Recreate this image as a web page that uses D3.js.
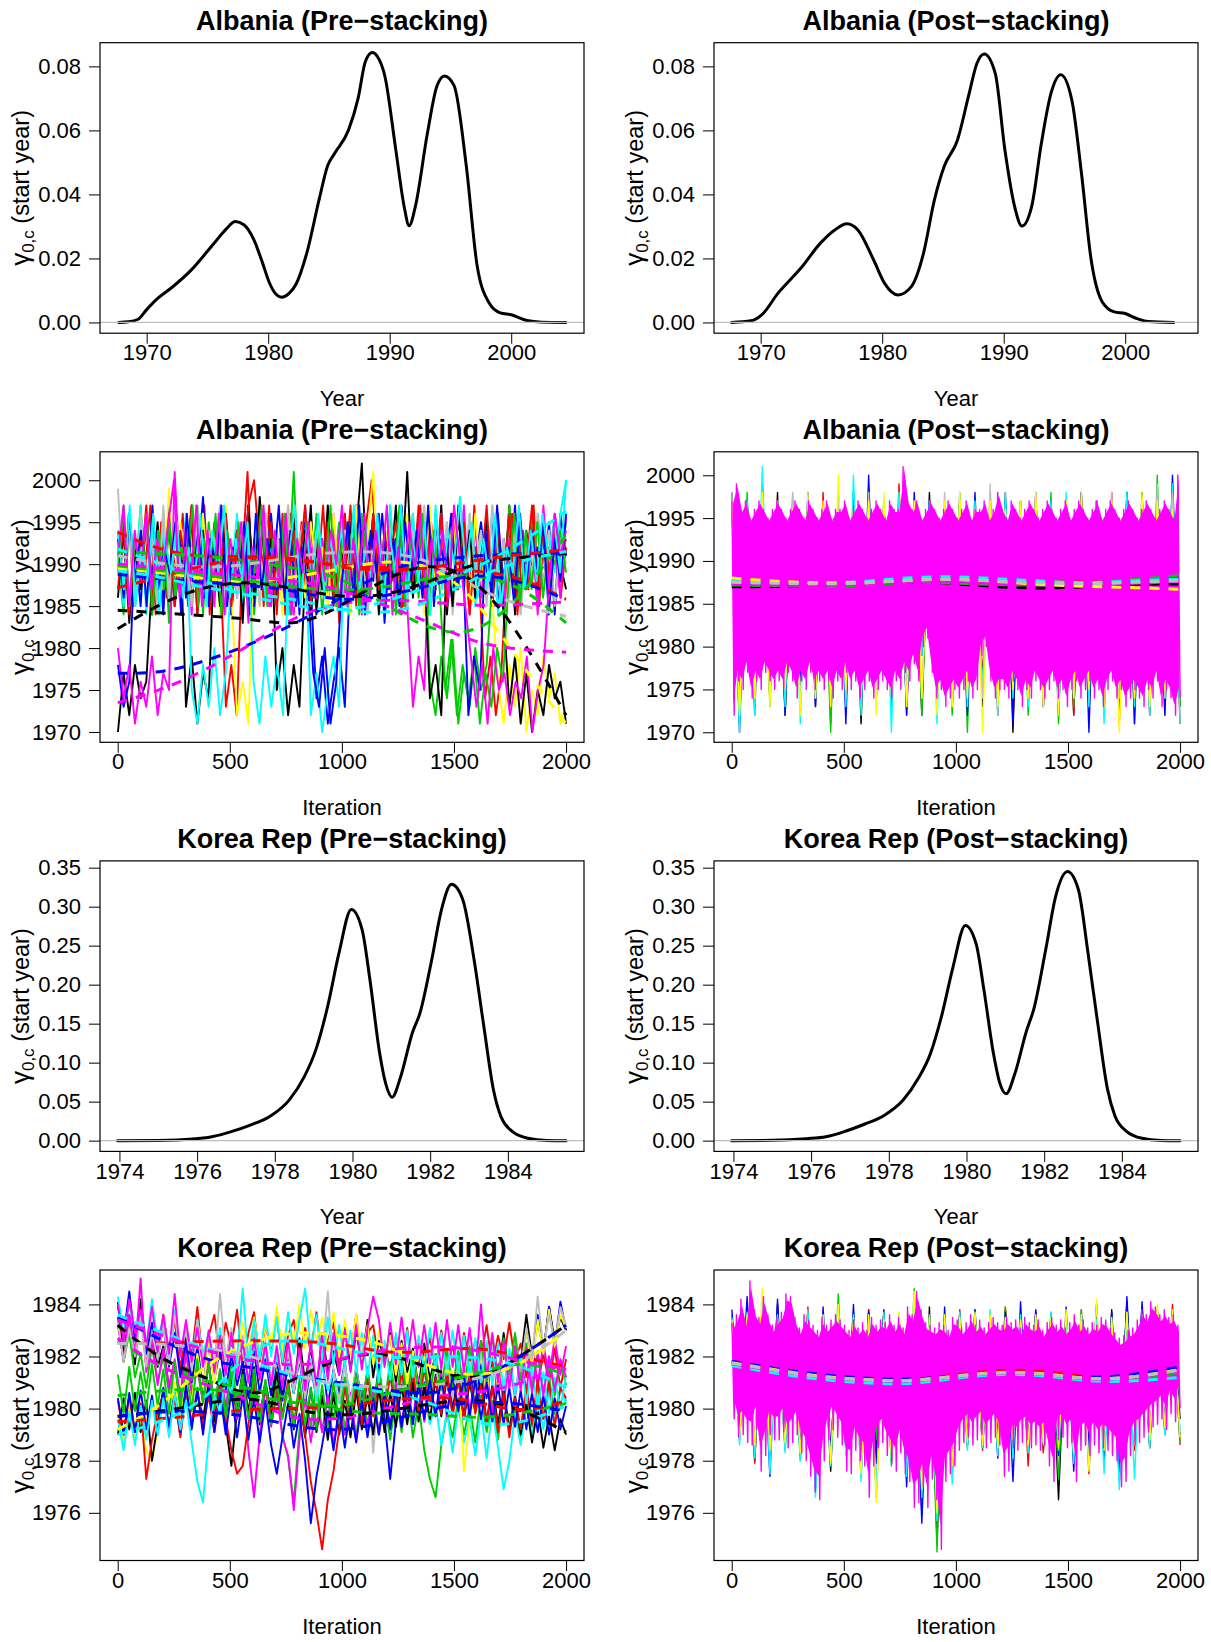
<!DOCTYPE html>
<html><head><meta charset="utf-8">
<script src="https://cdn.jsdelivr.net/npm/d3@7"></script>
<style>body{margin:0;background:#fff}svg{display:block}</style>
</head><body>
<svg id="chart" width="1211" height="1642"></svg>
<script>
// ---------------- DATA ----------------
const yearBase = 1970; // trace values below are stored as offsets from this year
const chainColors = ["#000000","#FF0000","#00CD00","#0000FF","#00FFFF","#FF00FF","#FFFF00","#BEBEBE"];
const iterTicks = [0, 500, 1000, 1500, 2000];
const smoothIters = [0,200,400,600,800,1000,1200,1400,1600,1800,2000];

// Density curves
const albPreDensX = [1967.7,1968.5,1969.3,1970,1970.9,1972.1,1973.7,1975.6,1976.5,1977.3,1978,1978.8,1979.5,1980.1,1980.6,1981.1,1981.7,1982.3,1983.2,1984.2,1984.9,1985.5,1986.6,1987.4,1988,1988.57,1989,1989.6,1990.5,1991.2,1991.6,1992.1,1993.1,1993.9,1994.5,1995.3,1996.3,1997.2,1998.2,1999.1,2000,2001.3,2002.5,2004.5];
const albPreDensY = [0,0.0002,0.001,0.004,0.0075,0.011,0.0165,0.025,0.029,0.0315,0.0305,0.026,0.019,0.0124,0.009,0.0079,0.009,0.012,0.022,0.0385,0.049,0.053,0.060,0.070,0.0815,0.0843,0.083,0.077,0.054,0.036,0.0302,0.036,0.059,0.074,0.077,0.074,0.049,0.0176,0.006,0.003,0.0024,0.0006,0.0001,0];
const albPostDensX = [1967.6,1969.2,1970.2,1971.4,1972.4,1973.3,1974.9,1976.1,1977.1,1978,1979.3,1980.2,1981.3,1982.4,1983.4,1984.3,1985.1,1986.2,1987.1,1987.8,1988.4,1989.3,1990.1,1990.9,1991.5,1992.3,1993.1,1993.9,1994.7,1995.6,1996.4,1997.2,1998.1,1999.1,2000,2000.9,2001.9,2004];
const albPostDensY = [0,0.0005,0.0028,0.009,0.0132,0.0169,0.0247,0.0289,0.0308,0.0289,0.0195,0.0122,0.0086,0.0112,0.0216,0.0383,0.0487,0.057,0.0706,0.081,0.0839,0.0779,0.0539,0.0362,0.0301,0.0362,0.056,0.0717,0.0774,0.0696,0.0466,0.0195,0.0065,0.0033,0.0028,0.0013,0.0003,0];
const korPreDensX = [1973.95,1975,1975.88,1976.38,1976.88,1977.37,1977.87,1978.37,1978.76,1979.06,1979.36,1979.65,1979.97,1980.25,1980.45,1980.7,1980.85,1981.02,1981.24,1981.54,1981.74,1982.04,1982.29,1982.55,1982.84,1983.13,1983.38,1983.63,1983.82,1984.12,1984.52,1985,1985.5];
const korPreDensY = [0,0.0003,0.002,0.005,0.0116,0.020,0.031,0.052,0.082,0.117,0.172,0.24,0.2965,0.27,0.206,0.112,0.074,0.0557,0.082,0.138,0.164,0.232,0.296,0.3286,0.309,0.232,0.147,0.065,0.031,0.0116,0.003,0.0003,0];
const korPostDensX = [1973.95,1975,1975.88,1976.38,1976.88,1977.37,1977.87,1978.37,1978.76,1979.06,1979.36,1979.65,1979.97,1980.25,1980.45,1980.7,1980.85,1981.02,1981.24,1981.54,1981.74,1982.04,1982.29,1982.6,1982.88,1983.13,1983.38,1983.63,1983.82,1984.12,1984.52,1985,1985.5];
const korPostDensY = [0,0.0004,0.0025,0.005,0.012,0.021,0.032,0.052,0.080,0.110,0.160,0.222,0.276,0.252,0.193,0.110,0.075,0.060,0.085,0.140,0.170,0.245,0.312,0.345,0.322,0.240,0.150,0.066,0.032,0.012,0.003,0.0003,0];

const albDensXTicks = [1970,1980,1990,2000];
const albDensYTicks = [0,0.02,0.04,0.06,0.08];
const korDensXTicks = [1974,1976,1978,1980,1982,1984];
const korDensYTicks = [0,0.05,0.10,0.15,0.20,0.25,0.30,0.35];
const albTraceYTicks = [1970,1975,1980,1985,1990,1995,2000];
const korTraceYTicks = [1976,1978,1980,1982,1984];

// Albania pre-stacking: 14 thinned chains (offset years)
const albPreChains = [
[0,7,2,8,4,6,18,25,15,26,17,23,3,9,1,7,4,22,16,26,14,24,17,27,15,23,18,25,5,10,2,8,3,19,27,14,23,16,25,18,26,15,24,32,17,25,14,23,19,27,16,22,18,26,15,24,17,27,14,23,19,25,16,22,18,26,15,24,17,27,14,23,19,25,16,22,18,26,20,17],
[24,17,26,15,23,19,27,14,25,16,22,18,26,15,24,17,27,14,23,19,3,8,2,20,31,16,24,15,27,18,23,14,26,17,25,15,22,19,27,16,24,13,26,18,23,15,25,30,21,16,24,18,26,15,23,17,27,14,25,19,22,16,26,18,24,15,27,17,4,9,2,7,19,26,14,24,17,27,15,23,18,25,16,22],
[21,14,25,17,27,15,23,18,26,13,24,19,22,16,27,14,25,18,20,26,15,24,17,26,14,22,19,25,16,23,18,31,15,24,17,26,14,22,19,25,16,23,18,26,15,21,24,17,27,14,23,19,26,16,24,6,2,9,4,11,1,7,3,10,5,8,18,25,14,27,16,23,19,26,15,24,17,22,20,25],
[8,3,6,22,15,26,18,24,14,27,17,23,16,25,19,28,15,22,17,26,14,24,18,27,15,23,19,26,16,22,18,25,14,27,17,4,9,1,6,10,3,20,27,15,24,18,26,13,23,17,27,16,22,19,25,14,26,18,23,15,27,17,24,20,25,19,26,15,23,18,27,16,24,19,22,17,25,14,26,21],
[22,15,26,18,27,14,24,17,25,16,23,19,26,5,1,8,3,10,2,7,19,26,15,23,18,27,16,22,17,25,14,26,18,24,2,7,0,5,9,3,24,17,26,14,25,19,23,16,27,18,22,15,26,17,24,14,27,19,25,16,23,18,26,15,24,17,27,14,22,19,25,16,23,18,26,21,24,19,26,30],
[10,4,8,1,6,3,9,2,7,5,31,18,25,14,26,17,24,15,27,19,22,16,25,13,23,18,26,15,24,17,27,14,22,19,25,16,23,18,26,15,24,17,27,14,22,19,25,16,23,18,26,15,3,9,5,24,17,26,15,23,18,27,14,25,16,22,19,26,15,23,20,25,17,24,14,27,18,22,16,26],
[20,26,15,24,18,27,14,23,17,29,16,25,19,22,15,26,18,24,14,27,17,2,6,1,22,15,26,18,24,14,27,17,23,16,25,19,22,15,26,18,24,14,27,17,23,31,16,25,19,22,15,26,18,24,14,27,17,23,16,25,19,22,15,26,18,24,16,6,1,8,3,10,0,5,2,9,4,7,1,3],
[29,17,24,15,26,18,23,14,27,16,25,19,22,15,26,17,24,18,27,14,23,16,25,19,22,15,26,18,24,17,27,15,23,26,19,24,16,27,18,22,15,25,17,23,14,21,16,24,18,22,26,15,24,19,27,16,23,18,25,14,22,17,26,19,24,15,27,18,23,16,25,14,22,19,26,17,24,15,23,20],
[16,24,13,22,17,26,14,23,18,25,15,21,19,27,14,24,17,22,15,26,18,24,13,27,16,28,19,23,15,25,18,26,16,24,14,22,17,27,15,23,19,25,16,22,18,26,15,24,17,23,19,31,16,24,20,4,8,2,22,15,26,18,24,16,21,25,17,23,14,3,9,1,7,0,5,2,8,4,6,1],
[17,25,14,23,19,27,16,22,18,26,15,24,20,27,14,23,17,25,19,26,15,24,18,27,30,22,19,25,14,26,17,24,20,27,15,23,18,25,16,22,19,27,15,24,18,26,17,23,21,25,14,22,18,27,16,24,19,26,15,23,17,25,14,22,19,27,16,24,18,26,15,23,20,27,17,25,19,24,21,23],
[19,27,15,23,18,26,14,24,17,25,16,22,19,27,15,23,18,26,14,24,17,25,16,21,19,27,15,23,18,26,14,24,17,25,16,22,19,27,15,23,18,26,14,24,17,25,16,22,19,27,15,23,18,26,14,24,17,5,11,2,8,4,9,1,7,3,10,6,18,26,15,24,17,25,16,22,20,24,19],
[23,16,26,18,24,15,27,17,22,19,25,14,26,18,24,16,23,19,27,15,22,18,25,14,26,17,23,19,27,16,24,15,22,18,7,3,10,1,6,18,25,16,27,14,24,19,26,17,23,15,25,18,24,16,27,15,23,19,26,17,22,2,9,5,24,16,27,18,22,15,26,17,24,19,25,14,23,18,26],
[24,17,27,15,22,18,26,14,23,19,25,16,22,18,26,15,24,19,27,16,23,18,25,6,1,9,3,8,2,21,27,15,24,18,26,16,23,19,25,14,27,17,22,18,26,15,24,19,27,16,23,18,25,14,26,17,24,20,28,19,25,16,23,18,26,15,22,19,27,17,24,18,26,21,25,19,30],
[21,27,15,24,18,26,17,23,19,25,30,16,22,18,27,15,24,17,26,14,23,19,25,16,22,18,27,15,24,17,26,14,23,19,25,16,22,18,24,20,27,15,23,18,26,16,24,19,27,14,22,17,25,19,26,15,23,18,24,16,27,21,15,9,3,8,1,10,5,7,2,6,4,9,0,5,8,18,26,21,24]
];
const albPreSmooth = [
[1982.3,1985.5,1987.5,1988,1987,1986,1986.2,1988,1990.3,1990.8,1991.3],
[1993.8,1991.5,1990.8,1991,1990.5,1989.8,1989.5,1989.6,1989.2,1988.5,1985.8],
[1991.5,1991.2,1991,1990.3,1989.5,1988.5,1985,1982,1981.5,1986,1993.5],
[1977,1977,1978.5,1980.5,1983,1986,1989.5,1990.5,1991,1991.3,1991.3],
[1991.8,1990,1987.8,1986,1985,1984.3,1985.5,1987.5,1989.5,1992.5,1996.3],
[1973.5,1975,1977.5,1980.5,1984,1985.5,1985.8,1985.5,1985,1985.2,1985.5],
[1989.5,1989,1988.2,1987.8,1988.5,1989.5,1990.5,1990,1986,1978,1971],
[1991,1990,1989.5,1990,1991,1991.5,1991.5,1990.5,1987,1985,1983.8],
[1984.5,1984.2,1983.8,1983.5,1982.5,1985,1988.5,1990.3,1988.5,1981.5,1972],
[1987.2,1988.5,1990,1991,1990.8,1989.5,1989.2,1989.5,1990.5,1991.2,1991.7],
[1989.8,1989.2,1988.7,1988,1987.2,1986.8,1987.2,1988.5,1988.8,1987.5,1983],
[1988.8,1988.2,1987.8,1987.5,1986.8,1985.5,1986.2,1987.5,1989,1988,1985.8],
[1989.2,1988.5,1987,1986.5,1985.8,1984.5,1984,1985.5,1988.5,1990.5,1991.5],
[1990,1989.5,1989,1988.5,1988,1987,1985,1983,1980.5,1979.8,1979.5]
];

// Albania post-stacking: per-bin high / low of each chain (offset years)
const albPostMagHi = [27,29,26,27,25,26,27,26,25,26,27,26,25,26,27,26,25,27,26,25,26,27,25,26,26,27,25,26,27,26,25,26,27,26,25,27,26,26,31,27,26,27,25,26,27,26,25,26,27,26,25,26,27,25,26,26,27,25,26,28,26,25,27,26,25,26,27,26,25,26,27,26,25,26,27,25,26,27,26,25,26,27,25,26,27,26,25,26,27,26,25,26,27,26,25,26,27,26,25,30];
const albPostMagLo = [2,6,5,7,4,6,5,7,6,5,6,5,7,6,4,6,5,7,5,6,5,6,4,6,5,7,5,6,4,5,6,4,5,6,5,4,6,5,7,6,8,6,10,11,7,4,5,3,4,5,4,5,6,4,5,9,10,6,4,5,5,4,6,5,3,5,4,6,5,4,5,6,4,5,3,5,6,4,5,6,4,5,3,5,6,4,5,3,4,5,4,3,5,4,6,3,5,4,2,4];
const albPostOtherColors = [0,1,2,3,4,7,6];
const albPostOtherHi = [
[26,27,25,28,26,27,26,27,28,26,25,27,26,28,26,27,25,27,28,26,27,26,25,28,27,26,27,28,26,29],
[27,26,28,26,27,25,28,27,26,28,27,29,26,27,26,28,25,27,26,27,28,26,27,25,26,28,27,26,28,27],
[26,28,27,26,25,27,26,28,26,27,26,28,27,26,25,27,26,28,26,27,25,28,27,26,27,26,28,26,30,27],
[28,27,29,26,27,28,26,27,28,30,27,26,28,27,26,27,28,26,27,26,28,27,26,28,27,26,28,27,26,30],
[26,27,31,26,28,27,26,27,30,26,27,28,26,27,26,28,27,26,28,27,26,27,28,26,27,26,28,27,26,29],
[28,26,27,26,28,27,26,27,26,28,27,26,27,26,28,27,26,29,26,27,28,26,27,26,27,28,26,27,29,28],
[27,26,28,27,26,28,27,30,26,27,28,26,27,26,27,28,26,27,26,27,28,26,27,28,26,27,26,28,27,26]
];
const albPostOtherLo = [
[3,5,4,2,5,3,4,6,1,4,5,3,2,5,4,6,3,5,0,4,3,5,2,4,6,3,5,2,4,3],
[4,2,5,3,4,5,1,4,3,5,4,2,3,5,3,4,6,2,4,5,3,4,2,5,3,1,4,3,4,1],
[1,4,3,2,5,4,0,3,5,4,3,5,2,8,2,0,4,3,5,2,4,1,3,5,2,4,1,3,2,3],
[0,3,4,2,5,3,4,1,3,4,5,2,9,3,4,2,5,3,1,4,3,2,4,0,3,4,1,3,2,4],
[0,2,4,3,1,4,5,3,2,4,0,3,9,1,4,3,5,2,4,3,5,2,4,3,1,4,3,2,4,1],
[3,5,4,5,3,4,6,4,5,3,4,5,4,6,3,5,4,3,5,4,3,5,4,6,3,4,5,3,4,5],
[2,4,3,5,2,4,3,5,4,2,5,3,4,2,3,4,0,3,5,4,3,2,4,5,3,0,4,3,5,4]
];
const albPostSmoothColors = [0,1,2,3,4,5,6,7];
const albPostSmooth = [
[1987.0,1987.0,1987.1,1987.3,1987.6,1987.4,1986.9,1986.8,1987.0,1987.3,1987.3],
[1987.7,1987.6,1987.4,1987.5,1987.9,1988.0,1987.8,1987.6,1987.5,1987.6,1987.6],
[1987.2,1987.1,1987.0,1987.2,1987.6,1987.4,1987.2,1987.2,1987.4,1987.8,1988.3],
[1987.4,1987.3,1987.2,1987.5,1988.0,1988.0,1987.8,1987.5,1987.3,1987.6,1988.0],
[1987.6,1987.5,1987.3,1987.6,1988.1,1988.2,1987.9,1987.6,1987.4,1987.7,1987.9],
[1987.3,1987.2,1987.1,1987.3,1987.7,1987.6,1987.3,1987.2,1987.2,1987.4,1987.6],
[1988.0,1987.6,1987.4,1987.4,1987.8,1987.9,1987.6,1987.2,1987.0,1986.9,1986.7],
[1987.5,1987.4,1987.3,1987.4,1987.8,1987.9,1987.6,1987.4,1987.3,1987.5,1987.7]
];

// Korea Rep pre-stacking: 14 thinned chains (offset years)
const korPreChains = [
[14.1,12.1,13.6,11.7,14.2,12.3,12.9,11.6,12.4,10.8,11.8,10.2,12.7,11.1,12.0,10.4,11.8,10.0,11.2,9.4,7.8,9.9,11.5,9.7,11.6,9.4,11.0,9.8,12.0,10.4,11.9,10.6,12.7,11.0,12.4,10.5,12.9,11.4,12.2,11.3,13.2,11.5,12.9,11.8,13.4,11.2,12.6,11.9,12.9,11.0,12.6,11.4,12.3,10.8,12.5,11.1,12.1,10.4,11.8,10.6,12.2,10.2,11.5,10.8,12.6,10.9,12.0,11.3,12.9,11.1,12.4,11.8,13.6,12.0,13.4,12.2,13.9,12.6,13.5,13.0],
[13.5,11.8,13.1,12.0,13.8,11.6,12.9,11.9,13.6,12.2,13.4,11.5,13.2,12.0,13.9,11.7,12.8,13.6,11.9,13.3,12.4,13.8,11.6,12.9,13.7,11.8,13.2,12.3,13.5,11.7,12.8,13.4,11.9,13.1,12.2,13.7,11.8,12.6,13.3,11.5,13.0,12.1,13.6,11.7,12.9,13.2,11.8,12.5,11.4,12.8,11.6,13.1,11.2,12.5,11.9,12.7,11.5,13.0,11.7,12.4,11.3,12.9,11.8,12.6,12.0,13.2,11.6,12.8,11.9,13.3,11.8,12.5,11.2,12.4,10.9,12.1,11.0,12.3,10.8,11.9],
[13.3,11.8,12.9,11.2,12.1,10.8,12.4,11.0,12.0,10.6,11.8,10.1,12.2,10.7,11.5,10.3,11.7,10.0,11.4,9.8,11.9,10.2,11.3,9.7,11.5,9.6,11.1,9.4,10.8,9.0,8.1,6.4,9.2,10.6,9.3,10.9,9.1,10.5,9.6,11.0,9.2,10.4,8.9,10.8,9.4,10.6,9.0,10.3,8.8,10.5,9.1,10.7,8.9,10.2,8.4,7.3,6.6,8.6,9.8,8.9,10.4,9.0,10.1,8.7,10.5,9.1,10.3,8.8,10.6,9.2,10.0,8.9,10.7,9.3,10.9,9.6,11.2,9.8,10.8,10.3],
[13.9,12.8,14.5,12.6,13.8,12.1,13.3,11.9,13.2,11.6,12.9,11.2,12.6,11.0,12.4,10.8,12.5,11.1,12.3,10.7,12.1,10.9,11.8,10.4,12.2,10.6,11.9,10.5,12.0,10.3,11.7,10.6,11.9,10.2,11.6,10.4,12.0,10.1,11.5,10.5,11.8,9.9,11.6,10.2,11.4,9.8,11.7,9.6,7.3,9.5,11.2,9.9,11.4,9.7,11.0,10.1,11.3,9.8,11.5,10.0,11.2,9.6,11.6,10.2,11.8,10.4,12.2,10.6,12.5,10.9,12.8,11.3,13.0,11.7,13.6,12.1,13.9,12.4,14.1,13.0],
[14.3,12.9,14.0,13.1,13.6,12.4,14.2,12.6,13.5,12.2,13.8,12.0,13.2,11.8,13.4,12.1,12.9,11.5,13.1,11.3,12.7,11.6,12.5,11.0,12.6,11.2,12.3,10.8,12.0,11.1,11.8,10.6,12.1,10.5,11.9,10.3,11.6,10.7,11.4,10.2,11.7,10.4,11.5,10.0,11.2,10.3,11.0,9.9,11.3,9.7,11.1,9.5,10.8,9.9,10.6,9.4,10.2,8.6,9.9,8.3,10.1,8.7,9.6,8.2,9.9,8.1,10.0,8.5,6.9,8.0,9.8,8.6,10.3,8.9,10.5,9.2,10.7,9.4,10.8,10.2],
[13.2,11.9,13.6,12.1,15.0,11.4,12.6,10.9,12.3,10.8,11.9,10.5,12.2,10.4,11.6,10.2,11.8,9.9,11.5,10.1,11.3,9.6,11.0,8.4,6.6,9.0,10.8,9.3,10.6,8.9,8.2,6.1,8.8,10.4,8.7,10.2,9.1,10.5,8.6,10.0,9.0,10.6,8.8,10.3,9.2,10.8,9.0,10.5,9.4,11.0,9.3,10.9,9.6,11.2,9.5,11.0,9.8,11.4,9.7,11.3,10.0,11.6,9.9,11.2,10.1,11.5,9.8,11.7,10.2,11.8,10.4,12.0,10.7,12.3,10.9,12.5,11.2,12.7,11.3,12.4],
[9.8,8.7,10.2,8.9,9.6,8.4,8.0,9.2,10.6,9.3,11.0,9.6,11.4,10.2,12.1,10.7,12.5,11.0,12.8,11.4,13.0,11.7,13.3,12.0,13.5,12.1,13.2,12.4,13.9,12.2,13.6,12.5,14.0,12.3,13.8,12.6,13.5,12.2,13.7,12.0,13.4,12.1,13.6,11.9,13.2,11.7,13.0,12.0,12.8,11.3,12.5,10.9,12.2,10.6,12.0,10.8,11.9,10.4,12.1,10.5,11.8,7.6,9.5,10.9,12.0,10.6,12.3,10.8,12.4,11.0,12.7,11.3,13.0,11.6,13.4,12.1,13.8,12.4,13.6,13.1],
[13.3,11.8,13.1,12.0,13.5,11.6,12.9,11.9,13.2,11.7,13.6,12.1,13.0,11.5,13.4,11.8,12.9,11.6,14.4,11.9,13.1,11.4,12.8,11.7,13.0,11.3,12.6,11.1,12.4,10.9,12.2,10.7,12.0,10.4,11.8,10.6,11.9,14.5,11.5,10.3,11.7,10.2,11.6,10.0,11.4,8.3,10.9,10.1,11.6,9.9,11.5,10.2,11.7,10.0,11.4,10.3,11.8,10.1,11.9,10.4,12.0,10.3,11.8,10.6,12.2,10.8,12.4,11.0,12.6,11.2,12.8,11.5,13.1,11.9,14.3,12.3,13.6,12.5,13.9,13.2],
[9.0,10.4,9.2,10.6,9.1,10.3,8.0,9.4,10.7,9.3,10.5,9.0,10.8,9.4,10.6,9.6,11.0,9.5,10.9,9.7,11.2,9.8,11.1,9.9,11.3,9.6,11.0,9.8,11.4,9.7,10.9,9.2,10.6,8.9,10.8,9.1,10.5,8.8,10.6,9.0,10.3,8.9,10.7,9.2,10.5,9.0,10.8,9.1,10.6,9.3,10.9,9.4,11.0,9.5,10.8,9.6,11.1,9.7,11.2,9.8,11.3,9.6,11.0,9.9,11.2,9.5,10.9,9.4,10.7,9.2,10.5,9.0,10.2,8.7,10.0,8.5,9.7,8.4,9.6,9.0],
[10.3,9.0,10.5,9.1,10.2,7.3,8.8,9.9,10.6,9.2,10.4,8.9,10.7,9.4,10.8,9.3,10.5,9.1,10.9,9.6,8.4,7.5,7.8,9.4,10.9,9.5,11.0,9.4,10.8,9.7,11.1,9.5,10.6,9.0,7.2,6.0,4.6,6.5,7.6,9.2,10.8,9.6,11.0,9.4,11.2,9.7,11.1,9.9,11.3,9.8,11.5,10.0,11.4,9.9,11.6,10.1,11.2,9.8,11.4,9.7,11.1,9.6,11.3,9.8,10.9,9.5,10.8,9.1,10.6,8.9,10.4,9.2,10.9,9.4,11.1,9.6,11.0,9.3,10.8,10.4],
[11.3,9.8,11.6,9.9,11.4,10.0,11.7,10.1,11.5,9.8,11.8,10.0,11.6,9.9,11.9,10.2,11.7,10.0,11.5,9.7,11.4,9.8,11.2,9.6,11.3,9.5,11.1,9.4,11.0,9.6,10.9,9.3,11.1,9.4,10.8,9.2,10.9,9.3,11.0,9.5,11.2,9.7,11.4,9.9,11.6,10.0,11.5,10.2,11.8,10.3,11.9,10.4,12.0,10.6,11.8,10.5,12.1,10.7,12.3,10.8,12.2,10.6,12.4,10.9,12.6,11.0,12.8,11.2,12.7,11.3,12.9,11.1,12.5,10.8,12.2,10.6,12.0,10.5,11.8,10.9],
[10.4,9.0,10.6,9.1,10.7,9.2,10.5,9.0,10.8,9.3,10.6,9.1,10.9,9.2,10.7,9.0,10.8,9.1,10.6,9.0,10.7,8.9,10.5,8.8,10.4,8.7,10.3,8.6,7.5,8.9,10.2,8.5,9.8,8.0,5.6,7.4,8.6,9.9,8.4,10.0,8.5,10.1,8.7,10.3,8.9,10.4,9.0,10.6,9.2,10.7,9.3,10.9,9.4,11.0,9.6,11.1,9.7,11.2,9.8,11.3,9.9,11.2,9.7,11.1,9.6,11.0,9.5,10.9,9.4,10.8,9.3,10.7,9.2,10.6,9.1,10.5,9.0,10.4,9.2,10.1],
[9.6,8.4,9.9,8.6,10.1,8.8,10.3,9.0,10.4,8.9,10.6,9.2,10.3,8.7,7.2,6.4,8.9,10.5,9.8,11.2,10.6,12.0,14.6,11.8,13.4,11.9,13.6,12.0,13.5,11.8,13.7,12.1,13.4,14.6,12.2,13.6,11.9,13.5,11.7,13.2,11.6,13.0,11.4,12.9,11.2,12.8,11.0,12.6,11.1,12.9,11.3,13.0,11.2,12.8,11.4,13.1,11.5,12.9,11.3,13.0,11.4,12.8,11.2,12.7,11.0,12.6,10.9,12.5,10.7,12.3,10.5,12.0,10.2,11.6,9.9,11.4,9.8,11.2,10.0,11.3],
[14.0,12.6,14.2,12.9,13.8,12.4,13.9,12.2,13.6,12.1,14.4,12.0,13.4,11.8,13.1,11.6,13.0,11.4,12.8,11.3,12.9,11.2,12.6,11.0,12.7,11.1,12.5,10.9,12.4,10.8,12.6,11.0,12.3,10.7,12.5,10.9,12.8,11.1,12.9,11.3,13.0,11.4,13.2,11.5,13.1,14.3,13.4,11.6,13.3,11.7,13.5,11.8,13.4,11.6,13.2,11.7,13.3,11.5,13.4,11.6,13.2,11.4,13.1,11.3,14.0,11.2,12.9,11.0,12.6,10.8,12.4,10.7,12.3,10.6,12.1,10.5,12.0,10.7,11.9,11.2]
];
const korPreSmooth = [
[1983.2,1981.8,1981.2,1980.3,1981.2,1982.0,1982.2,1981.5,1981.0,1982.0,1983.2],
[1982.5,1982.5,1982.6,1982.6,1982.6,1982.5,1982.1,1982.2,1982.4,1982.0,1981.6],
[1982.6,1981.5,1981.0,1980.8,1980.3,1979.9,1979.8,1979.8,1979.6,1979.8,1980.2],
[1983.5,1982.6,1981.8,1981.6,1981.2,1981.0,1980.7,1980.5,1981.0,1982.0,1983.2],
[1983.6,1982.9,1982.3,1981.8,1981.2,1980.9,1980.6,1980.3,1979.3,1979.4,1980.1],
[1982.7,1981.5,1980.9,1980.3,1979.5,1979.6,1980.0,1980.5,1980.6,1980.9,1981.8],
[1979.2,1980.1,1981.8,1982.6,1983.0,1982.8,1982.5,1981.5,1981.2,1981.6,1983.0],
[1982.5,1982.5,1982.3,1982.1,1981.2,1980.9,1980.8,1980.9,1981.1,1981.7,1983.0],
[1979.7,1979.9,1980.2,1980.5,1979.9,1979.7,1979.9,1980.2,1980.4,1980.0,1979.1],
[1979.5,1979.6,1979.8,1980.0,1980.0,1980.1,1980.3,1980.5,1980.3,1979.8,1980.3],
[1980.5,1980.7,1980.8,1980.5,1980.2,1980.0,1980.6,1981.0,1981.3,1981.9,1981.3],
[1979.7,1979.9,1979.9,1979.7,1979.3,1979.1,1979.5,1980.0,1980.3,1980.2,1979.9],
[1979.0,1979.5,1980.3,1982.5,1982.7,1982.3,1981.9,1982.0,1982.0,1981.7,1980.8],
[1983.4,1982.8,1982.2,1981.8,1981.6,1981.9,1982.3,1982.4,1982.3,1981.8,1981.5]
];

// Korea Rep post-stacking: per-bin high / low (offset years)
const korPostMagHi = [13.3,13.6,14.2,13.4,14.9,13.8,13.5,14.3,13.6,13.2,13.5,13.7,14.4,14.3,13.5,13.1,13.6,13.4,13.2,13.0,13.5,13.2,13.4,13.6,13.4,13.2,13.0,13.4,13.1,13.3,13.0,13.5,13.2,13.4,13.3,13.6,13.2,13.5,13.1,13.9,13.6,14.5,13.8,13.3,13.2,13.1,13.3,13.2,13.0,13.5,13.4,13.1,13.3,13.6,13.2,13.4,13.1,13.3,13.5,13.3,13.2,13.5,13.3,13.4,13.1,13.5,13.3,13.2,13.4,13.0,13.3,13.5,13.2,13.4,13.1,13.3,13.6,13.2,13.4,13.1,13.3,13.2,13.5,13.4,13.1,12.9,12.7,12.8,13.0,13.1,13.4,13.8,13.6,14.1,13.9,13.6,13.8,13.5,13.6,13.2];
const korPostMagLo = [9.6,8.9,9.0,8.7,8.6,9.2,7.6,8.2,9.0,8.8,8.8,9.1,8.5,8.7,9.0,8.3,8.0,7.4,6.8,6.5,8.0,8.8,9.2,8.9,8.6,7.6,7.5,8.4,8.0,7.8,6.6,7.8,8.5,8.7,8.2,7.9,7.6,8.3,7.5,7.2,6.2,6.4,7.0,6.2,7.3,6.5,4.6,7.2,7.5,7.8,8.4,8.7,8.9,8.6,8.8,9.0,8.5,8.7,8.9,8.6,7.4,7.6,8.5,8.4,8.7,8.8,8.5,8.6,8.4,8.6,7.8,7.2,8.8,8.9,8.5,8.7,7.2,8.4,8.6,8.2,8.6,8.3,8.5,8.4,8.2,8.0,7.0,7.2,8.2,8.6,8.7,8.9,9.1,9.3,9.4,9.6,9.2,9.8,9.5,10.0];
const korPostOtherColors = [0,1,2,3,4,6];
const korPostOtherHi = [
[13.4,13.6,13.8,14.0,13.6,13.8,13.5,13.9,13.6,13.8,13.7,13.5,13.6,13.9,13.5,13.7,13.6,13.5,13.8,13.6,13.7,13.4,13.6,13.5,13.7,13.8,14.1,13.9,13.7,13.6],
[13.5,13.4,13.7,13.3,13.6,13.9,13.5,13.4,13.6,13.8,13.5,13.3,13.7,13.6,13.5,13.8,13.4,13.6,13.9,13.5,13.7,13.4,13.6,13.8,13.5,13.4,13.7,13.6,13.8,14.0],
[13.6,13.8,14.2,13.5,13.7,13.6,13.4,14.4,13.6,13.5,13.7,13.6,14.6,13.5,13.6,13.4,13.8,13.5,13.9,13.6,13.5,13.7,13.4,13.8,13.9,13.6,14.0,13.5,13.7,13.5],
[13.8,14.3,13.6,14.2,13.7,13.5,13.9,13.6,14.0,13.7,13.8,13.5,13.6,13.3,13.9,13.6,13.8,13.5,13.7,14.1,13.8,13.6,13.9,13.6,14.0,13.7,14.3,14.1,13.8,13.7],
[13.5,13.7,14.1,13.6,13.4,13.8,13.5,13.7,13.6,13.4,13.7,13.5,14.4,13.6,13.5,13.7,13.6,13.8,13.4,13.6,13.5,13.7,13.5,13.6,13.4,13.3,13.7,13.6,13.9,13.5],
[13.4,13.6,14.6,13.5,13.7,13.4,13.6,14.0,13.5,13.6,13.4,13.7,14.5,13.5,13.6,13.5,13.7,13.6,13.5,13.4,13.6,13.5,13.8,13.6,14.2,13.5,13.7,13.6,14.0,13.8]
];
const korPostOtherLo = [
[9.0,8.0,8.6,8.9,8.3,7.8,7.6,8.5,8.7,8.4,8.8,8.1,6.0,4.9,7.5,8.6,8.5,8.8,8.3,8.7,8.4,6.5,8.6,8.4,8.0,8.3,8.6,8.5,9.2,9.6],
[8.8,7.9,8.6,8.4,8.2,7.8,8.3,8.5,7.4,6.6,8.0,8.5,7.0,5.5,7.6,8.7,8.4,8.6,8.9,7.8,8.3,8.5,7.9,7.5,8.2,7.2,8.4,8.7,9.0,8.6],
[8.9,8.4,8.7,8.5,8.0,8.6,7.9,8.5,8.3,8.8,7.8,8.1,6.3,4.5,7.4,8.5,8.7,8.3,8.8,8.4,8.7,7.3,8.2,8.6,8.5,7.4,8.8,8.6,9.2,8.7],
[9.3,8.5,7.4,8.6,8.2,6.9,8.3,8.4,7.6,7.9,8.2,7.0,5.6,6.0,7.7,8.6,8.7,8.1,7.2,8.4,8.7,8.2,7.6,8.5,8.0,7.3,8.6,8.7,9.4,9.0],
[8.6,8.1,7.5,8.3,8.0,6.6,7.8,8.2,7.2,6.9,7.9,7.4,6.6,5.7,7.1,8.4,8.5,8.2,8.1,8.3,8.6,8.4,7.9,7.7,7.5,6.9,7.3,8.5,9.0,9.1],
[8.9,8.6,8.4,8.7,8.3,7.6,7.9,8.4,7.5,6.4,8.1,8.3,6.9,6.0,7.8,8.7,8.6,8.5,8.8,8.6,8.7,8.5,8.3,7.6,8.4,8.5,8.6,8.8,9.3,8.9]
];
const korPostSmoothColors = [0,1,2,3,4,5,6,7];
const korPostSmooth = [
[1981.8,1981.5,1981.25,1981.12,1981.08,1981.28,1981.42,1981.35,1981.12,1981.25,1981.55],
[1981.78,1981.5,1981.22,1981.1,1981.05,1981.3,1981.5,1981.45,1981.15,1981.25,1981.45],
[1981.7,1981.42,1981.18,1981.05,1981.0,1981.22,1981.38,1981.32,1981.05,1981.15,1981.4],
[1981.82,1981.52,1981.3,1981.15,1981.1,1981.25,1981.4,1981.3,1981.15,1981.3,1981.6],
[1981.65,1981.35,1981.1,1980.98,1980.92,1981.18,1981.35,1981.28,1981.02,1981.05,1981.2],
[1981.72,1981.45,1981.2,1981.08,1981.02,1981.24,1981.4,1981.34,1981.08,1981.18,1981.45],
[1981.76,1981.48,1981.22,1981.1,1981.04,1981.26,1981.42,1981.36,1981.1,1981.2,1981.5],
[1981.74,1981.46,1981.2,1981.1,1981.05,1981.25,1981.41,1981.35,1981.1,1981.2,1981.48]
];

// ---------------- LAYOUT ----------------
const FONT = "'Liberation Sans', Arial, Helvetica, sans-serif";
const colX = [100, 714];
const rowY = [42.7, 451.8, 860.9, 1270];
const PW = 484, PH = 290.5;
const svg = d3.select("#chart");
svg.append("rect").attr("width",1211).attr("height",1642).attr("fill","#fff");

function interleave(hi, lo){ const out=[]; hi.forEach((h,i)=>{ out.push(h); out.push(lo[i]); }); return out; }

function basePanel(p, idx){
  const g = svg.append("g").attr("transform",`translate(${colX[p.col]},${rowY[p.row]})`);
  const x = d3.scaleLinear().domain(p.xDom).range([0,PW]);
  const y = d3.scaleLinear().domain(p.yDom).range([PH,0]);
  g.append("clipPath").attr("id","clip"+idx).append("rect").attr("width",PW).attr("height",PH);
  const body = g.append("g").attr("clip-path",`url(#clip${idx})`);
  return {g,x,y,body};
}

function decorate(p, g, x, y){
  const ax = g.append("g").attr("transform",`translate(0,${PH})`)
    .call(d3.axisBottom(x).tickValues(p.xTicks).tickFormat(d3.format("d")).tickSize(10.5).tickPadding(1).tickSizeOuter(0));
  ax.select(".domain").remove();
  ax.attr("font-size",22).attr("font-family",FONT);
  ax.selectAll("line").attr("stroke","#000").attr("stroke-width",1);
  ax.selectAll("text").attr("fill","#000");
  const ay = g.append("g")
    .call(d3.axisLeft(y).tickValues(p.yTicks).tickFormat(d3.format(p.yFmt)).tickSize(11).tickPadding(8).tickSizeOuter(0));
  ay.select(".domain").remove();
  ay.attr("font-size",22).attr("font-family",FONT);
  ay.selectAll("line").attr("stroke","#000").attr("stroke-width",1);
  ay.selectAll("text").attr("fill","#000");
  g.append("rect").attr("width",PW).attr("height",PH).attr("fill","none").attr("stroke","#000").attr("stroke-width",1.2);
  g.append("text").attr("x",PW/2).attr("y",-13).attr("text-anchor","middle")
    .attr("font-family",FONT).attr("font-size",27).attr("font-weight","bold").text(p.title);
  g.append("text").attr("x",PW/2).attr("y",PH+73).attr("text-anchor","middle")
    .attr("font-family",FONT).attr("font-size",22).text(p.xlab);
  const yl = g.append("text").attr("transform",`translate(-71,${PH/2}) rotate(-90)`)
    .attr("text-anchor","middle").attr("font-family",FONT).attr("font-size",23.5);
  yl.append("tspan").attr("font-size",26).text("\u03B3");
  yl.append("tspan").attr("font-size",17).attr("dy",5).text("0,c");
  yl.append("tspan").attr("dy",-5).text(" (start year)");
}

function densityPanel(p, idx){
  const {g,x,y,body} = basePanel(p, idx);
  const pts = p.dx.map((d,i)=>[d, p.dy[i]]);
  body.append("path").attr("d", d3.line().x(d=>x(d[0])).y(d=>y(d[1])).curve(d3.curveMonotoneX)(pts))
    .attr("fill","none").attr("stroke","#000").attr("stroke-width",3).attr("stroke-linejoin","round").attr("stroke-linecap","round");
  body.append("line").attr("x1",0).attr("x2",PW).attr("y1",y(0)).attr("y2",y(0)).attr("stroke","#BEBEBE").attr("stroke-width",1.2);
  decorate(p, g, x, y);
}

function tracePanel(p, idx){
  const {g,x,y,body} = basePanel(p, idx);
  const line = d3.line().x(d=>x(d[0])).y(d=>y(d[1]));
  p.chains.forEach(ch=>{
    const n = ch.v.length;
    const pts = ch.v.map((v,i)=>[1 + i*1999/(n-1), v + yearBase]);
    if (ch.band) {
      // coverage of the fast-mixing chain: band between its per-bin low and high
      const m = ch.band.hi.length;
      const bpts = ch.band.hi.map((h,j)=>({it: 1 + (2*j+0.5)*1999/(2*m-1), hi: h + yearBase, lo: ch.band.lo[j] + yearBase}));
      body.append("path").attr("d", d3.area().x(d=>x(d.it)).y0(d=>y(d.lo+p.inset[0])).y1(d=>y(d.hi-p.inset[1]))(bpts))
        .attr("fill", ch.c).attr("stroke","none");
    }
    body.append("path").attr("d", line(pts)).attr("fill","none").attr("stroke", ch.c).attr("stroke-width",p.lw).attr("stroke-linejoin","round");
  });
  const sline = d3.line().x(d=>x(d[0])).y(d=>y(d[1])).curve(d3.curveBasis);
  p.smooth.forEach(s=>{
    const pts = s.v.map((v,i)=>[smoothIters[i], v]);
    body.append("path").attr("d", sline(pts)).attr("fill","none").attr("stroke", s.c).attr("stroke-width",3).attr("stroke-dasharray","10,9");
  });
  decorate(p, g, x, y);
}

const panels = [
  {kind:"d", col:0,row:0,title:"Albania (Pre\u2212stacking)", dx:albPreDensX, dy:albPreDensY, xDom:[1966.16,2005.99], yDom:[-0.00336,0.0874], xTicks:albDensXTicks, yTicks:albDensYTicks, yFmt:".2f", xlab:"Year"},
  {kind:"d", col:1,row:0,title:"Albania (Post\u2212stacking)", dx:albPostDensX, dy:albPostDensY, xDom:[1966.16,2005.99], yDom:[-0.00336,0.0874], xTicks:albDensXTicks, yTicks:albDensYTicks, yFmt:".2f", xlab:"Year"},
  {kind:"t", col:0,row:1,title:"Albania (Pre\u2212stacking)", xDom:[-79,2080], yDom:[1968.77,2003.39], xTicks:iterTicks, yTicks:albTraceYTicks, yFmt:"d", xlab:"Iteration", lw:1.9,
    chains: albPreChains.map((v,k)=>({c:chainColors[k%8], v})),
    smooth: albPreSmooth.map((v,k)=>({c:chainColors[k%8], v}))},
  {kind:"t", col:1,row:1,title:"Albania (Post\u2212stacking)", xDom:[-79,2080], yDom:[1968.83,2002.74], xTicks:iterTicks, yTicks:albTraceYTicks, yFmt:"d", xlab:"Iteration", lw:1.4, inset:[1.2,0.3],
    chains: albPostOtherHi.map((h,k)=>({c:chainColors[albPostOtherColors[k]], v:interleave(h, albPostOtherLo[k])}))
      .concat([{c:chainColors[5], v:interleave(albPostMagHi, albPostMagLo), band:{hi:albPostMagHi, lo:albPostMagLo}}]),
    smooth: albPostSmooth.map((v,k)=>({c:chainColors[albPostSmoothColors[k]], v}))},
  {kind:"d", col:0,row:2,title:"Korea Rep (Pre\u2212stacking)", dx:korPreDensX, dy:korPreDensY, xDom:[1973.5,1985.96], yDom:[-0.0138,0.3587], xTicks:korDensXTicks, yTicks:korDensYTicks, yFmt:".2f", xlab:"Year"},
  {kind:"d", col:1,row:2,title:"Korea Rep (Post\u2212stacking)", dx:korPostDensX, dy:korPostDensY, xDom:[1973.5,1985.96], yDom:[-0.0138,0.3587], xTicks:korDensXTicks, yTicks:korDensYTicks, yFmt:".2f", xlab:"Year"},
  {kind:"t", col:0,row:3,title:"Korea Rep (Pre\u2212stacking)", xDom:[-79,2080], yDom:[1974.17,1985.32], xTicks:iterTicks, yTicks:korTraceYTicks, yFmt:"d", xlab:"Iteration", lw:1.9,
    chains: korPreChains.map((v,k)=>({c:chainColors[k%8], v})),
    smooth: korPreSmooth.map((v,k)=>({c:chainColors[k%8], v}))},
  {kind:"t", col:1,row:3,title:"Korea Rep (Post\u2212stacking)", xDom:[-79,2080], yDom:[1974.17,1985.32], xTicks:iterTicks, yTicks:korTraceYTicks, yFmt:"d", xlab:"Iteration", lw:1.4, inset:[0.9,0.25],
    chains: korPostOtherHi.map((h,k)=>({c:chainColors[korPostOtherColors[k]], v:interleave(h, korPostOtherLo[k])}))
      .concat([{c:chainColors[5], v:interleave(korPostMagHi, korPostMagLo), band:{hi:korPostMagHi, lo:korPostMagLo}}]),
    smooth: korPostSmooth.map((v,k)=>({c:chainColors[korPostSmoothColors[k]], v}))}
];

panels.forEach((p,i)=>{ if(p.kind==="d") densityPanel(p,i); else tracePanel(p,i); });
</script>
</body></html>
